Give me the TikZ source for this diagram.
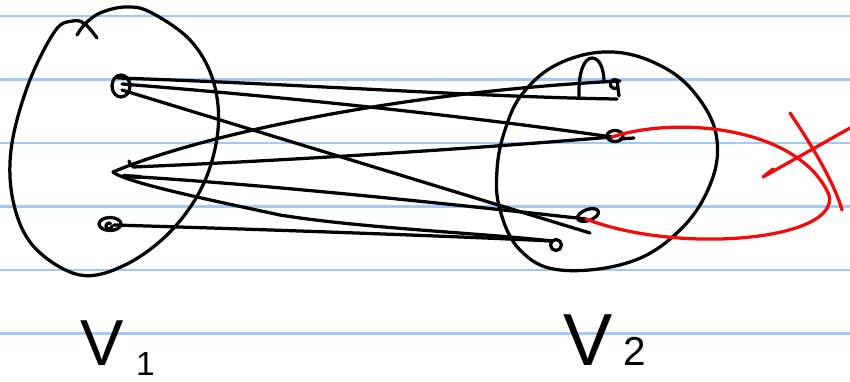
\documentclass[tikz,border=0pt]{standalone}
\usepackage{fontspec}
\setmainfont{Liberation Sans}
\begin{document}
\begin{tikzpicture}[x=0.02cm,y=-0.02cm,
  ink/.style={line width=1.85pt,line cap=round,line join=round,black},
  redink/.style={line width=1.85pt,line cap=round,line join=round,draw={rgb,255:red,245;green,10;blue,10}},
  rule/.style={line width=1.4pt,draw={rgb,255:red,160;green,200;blue,250}},
  lbl/.style={inner sep=0pt,anchor=base west,text depth=0pt}]
\useasboundingbox (0,0) rectangle (850,382);
% ruled paper
\foreach \yy in {16,79.5,143,206.5,270,333.5}{\draw[rule] (0,\yy) -- (850,\yy);}
% set V1 outline
\draw[ink] plot[smooth,tension=0.6] coordinates {(97,38) (85,24) (73,21) (55,31) (28,85) (11,150) (14,205) (35,248) (80,275) (125,265) (170,232) (203,185) (218,130) (213,80) (190,40) (150,12) (125,7) (100,13) (85,24) (77,35)};
% set V2 outline
\draw[ink] plot[smooth cycle,tension=0.65] coordinates {(613,52) (665,68) (700,100) (717,140) (710,185) (680,230) (630,262) (560,270) (520,250) (500,210) (497,170) (505,130) (523,93) (560,63)};
\draw[ink] (579,98) .. controls (578,70) and (585,58) .. (592,58) .. controls (600,58) and (604,70) .. (604,82);
% vertices
\coordinate (a1t) at (118,78);
\coordinate (a1m) at (122,84);
\coordinate (a1b) at (122,90);
\coordinate (a2) at (113,172);
\coordinate (a2u) at (133,167);
\coordinate (a2m) at (140,177);
\coordinate (a3) at (114,225);
\coordinate (b1u) at (620,81);
\coordinate (b1l) at (617,99);
\coordinate (b2) at (612,137);
\coordinate (b3) at (586,219);
\coordinate (b4) at (552,241);
\coordinate (s1) at (590,233);
\draw[ink] (121,86) ellipse [x radius=9,y radius=11];
\draw[ink] (129,161) -- (131,166);
\draw[ink,line width=2.4pt] (124,176) -- (140,177);
\draw[ink] (110,224) ellipse [x radius=11,y radius=6.5];
\draw[ink] (112,226) arc (0:300:3);
\draw[ink] (617,88) arc (60:300:4.5) -- (619,96);
\draw[ink] (615,136) ellipse [x radius=8,y radius=5.5];
\draw[ink] (620,139) -- (634,138);
\draw[ink,rotate around={20:(588,215)}] (588,215) ellipse [x radius=11,y radius=5.5];
\draw[ink] (556,245) circle [radius=5.5];
% edges
\draw[ink] (a1t) .. controls (300,84) and (480,97) .. (b1l);
\draw[ink] (a1m) .. controls (300,98) and (480,118) .. (b2);
\draw[ink] (a1b) -- (s1);
\draw[ink] (a2) .. controls (200,135) and (400,92) .. (b1u);
\draw[ink] (a2u) .. controls (300,160) and (480,148) .. (b2);
\draw[ink] (a2m) .. controls (280,186) and (450,204) .. (b3);
\draw[ink] (a2) .. controls (125,182) and (200,198) .. (280,215) .. controls (360,228) and (480,233) .. (b4);
\draw[ink] (a3) .. controls (250,229) and (450,236) .. (b4);
% red loop and cross
\draw[redink] (b2) .. controls (680,115) and (800,128) .. (829,195) .. controls (840,240) and (680,255) .. (b3);
\draw[redink] (790,113) .. controls (815,150) and (835,185) .. (842,210);
\draw[redink] (850,128) -- (763,177) -- (773,169);
% labels
\node[lbl] (v1l) at (80,365) {\fontsize{37}{37}\selectfont V\kern7pt\raisebox{-6pt}{\fontsize{19}{19}\selectfont 1}};
\node[lbl] (v2l) at (563,365) {\fontsize{42}{42}\selectfont V\kern6pt{\fontsize{23}{23}\selectfont 2}};
\end{tikzpicture}
\end{document}
